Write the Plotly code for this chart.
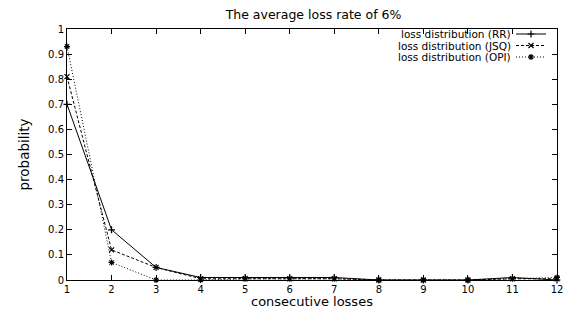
import plotly.graph_objects as go

consecutive = list(range(1, 13))
rr = [0.70, 0.20, 0.05, 0.01, 0.01, 0.01, 0.01, 0.0, 0.0, 0.0, 0.01, 0.0]
jsq = [0.81, 0.12, 0.05, 0.005, 0.005, 0.005, 0.005, 0.0, 0.0, 0.0, 0.005, 0.005]
opi = [0.93, 0.07, 0.0, 0.0, 0.005, 0.005, 0.005, 0.0, 0.0, 0.0, 0.005, 0.01]
series_names = ["loss distribution (RR)", "loss distribution (JSQ)", "loss distribution (OPI)"]
y_ticks = [0, 0.1, 0.2, 0.3, 0.4, 0.5, 0.6, 0.7, 0.8, 0.9, 1]
y_tick_labels = ["0", "0.1", "0.2", "0.3", "0.4", "0.5", "0.6", "0.7", "0.8", "0.9", "1"]

FONT = "DejaVu Sans, Liberation Sans, Arial, sans-serif"

styles = [
    dict(dash="solid", symbol="cross-thin"),
    dict(dash="3px,2px", symbol="x-thin"),
    dict(dash="1px,2px", symbol="asterisk-open"),
]

W, H = 569, 310
L, R, T, B = 67, 12, 29, 30

fig = go.Figure()
for vals, st, name in zip([rr, jsq, opi], styles, series_names):
    fig.add_trace(go.Scatter(
        x=consecutive, y=vals, mode="lines+markers", name=name,
        line=dict(color="black", width=1, dash=st["dash"]),
        marker=dict(symbol=st["symbol"], size=5, color="black",
                    line=dict(color="black", width=1.2)),
        showlegend=False, cliponaxis=False,
    ))

# gnuplot-style legend keys on a pixel-space overlay axis
rows_y = [34, 45.5, 57]
for i, (st, name) in enumerate(zip(styles, series_names)):
    fig.add_trace(go.Scatter(
        x=[516, 546], y=[rows_y[i], rows_y[i]], mode="lines",
        line=dict(color="black", width=1, dash=st["dash"]),
        xaxis="x2", yaxis="y2", showlegend=False, hoverinfo="skip",
    ))
    fig.add_trace(go.Scatter(
        x=[531], y=[rows_y[i]], mode="markers",
        marker=dict(symbol=st["symbol"], size=5, color="black",
                    line=dict(color="black", width=1.2)),
        xaxis="x2", yaxis="y2", showlegend=False, hoverinfo="skip",
    ))
    fig.add_annotation(
        x=512, y=rows_y[i], xref="x2", yref="y2", text=name,
        showarrow=False, xanchor="right", yanchor="middle",
        borderpad=0, font=dict(size=10.5, color="black", family=FONT),
    )

# x-axis title as annotation to sit close under the tick labels
fig.add_annotation(
    x=0.5, y=-(293 - (H - B)) / (H - T - B), xref="paper", yref="paper",
    text="consecutive losses", showarrow=False, xanchor="center", yanchor="top",
    borderpad=0, font=dict(size=13, color="black", family=FONT),
)

axis_common = dict(
    showgrid=False, zeroline=False, showline=True, linecolor="black",
    linewidth=1, mirror="ticks", ticks="inside", ticklen=5,
    tickcolor="black", tickwidth=1, ticklabeloverflow="allow",
    tickfont=dict(size=10, color="black", family=FONT),
)

fig.update_layout(
    width=W, height=H,
    margin=dict(l=L, r=R, t=T, b=B, pad=0, autoexpand=False),
    paper_bgcolor="white", plot_bgcolor="white",
    font=dict(family=FONT, color="black"),
    title=dict(text="The average loss rate of 6%", x=313.5 / W, xanchor="center",
               y=1 - 15 / H, yanchor="middle", font=dict(size=12.5, family=FONT)),
    xaxis=dict(range=[1, 12], tickvals=consecutive, ticktext=[str(c) for c in consecutive],
               **axis_common),
    yaxis=dict(range=[0, 1], tickvals=y_ticks, ticktext=y_tick_labels,
               title=dict(text="probability", font=dict(size=13.5, family=FONT), standoff=15),
               **axis_common),
    xaxis2=dict(overlaying="x", range=[L, W - R], visible=False, fixedrange=True),
    yaxis2=dict(overlaying="y", range=[H - B, T], visible=False, fixedrange=True),
)

fig.write_html(
    "out.html",
    config={"displayModeBar": False},
    post_script="document.body.style.margin='0';document.body.style.overflow='hidden';",
)
